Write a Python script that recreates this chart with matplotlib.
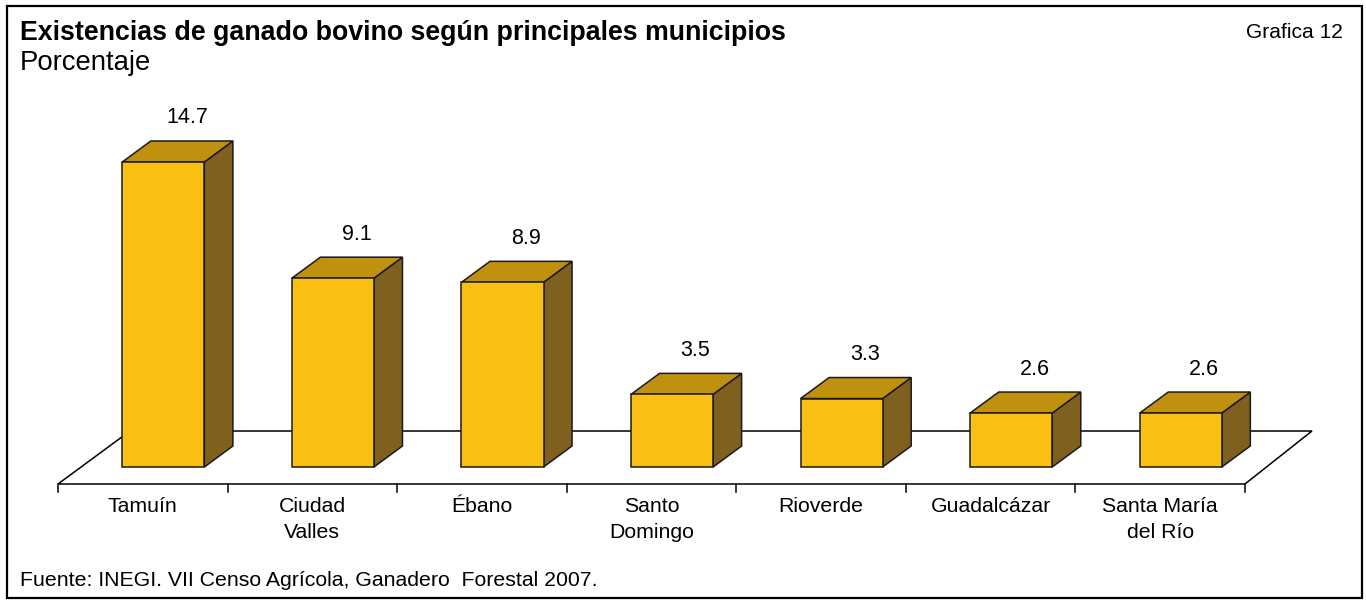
import matplotlib
matplotlib.use("Agg")
import matplotlib.pyplot as plt
from matplotlib.patches import Polygon, Rectangle

# ---- data ----
categories = ["Tamuín", "Ciudad\nValles", "Ébano", "Santo\nDomingo", "Rioverde", "Guadalcázar", "Santa María\ndel Río"]
values = [14.7, 9.1, 8.9, 3.5, 3.3, 2.6, 2.6]
title = "Existencias de ganado bovino según principales municipios"
subtitle = "Porcentaje"
chart_no = "Grafica 12"
source = "Fuente: INEGI. VII Censo Agrícola, Ganadero  Forestal 2007."

# ---- style / layout ----
W, H = 1366, 604
plt.rcParams['font.family'] = ['Liberation Sans', 'DejaVu Sans']
FRONT = "#F9C013"
TOP = "#C0900F"
SIDE = "#80601F"

X0_PX, Y0_PX = 58.0, 467.0       # pixel of data (0, 0)
UX, UY = 169.57, 20.75           # pixels per data unit
DX, DY = 72.0 / UX, 53.0 / UY    # depth offset (data units) for full floor depth
FLOOR_Y = -17.0 / UY
Z0, Z1 = 17.0 / 53.0, 38.0 / 53.0
BAR_OFF, BAR_W = 0.243, 0.484

fig = plt.figure(figsize=(W / 100, H / 100), dpi=100)
ax = fig.add_axes([0, 0, 1, 1])
ax.set_xlim(-X0_PX / UX, (W - X0_PX) / UX)
ax.set_ylim((Y0_PX - H) / UY, Y0_PX / UY)
ax.axis("off")


def proj(x, h, z):
    return (x + z * DX, FLOOR_Y + z * DY + h)


n = len(categories)
# floor
br = proj(n, 0, 1)
floor = [proj(0, 0, 0), proj(n, 0, 0), (br[0] - 5.0 / UX, br[1]), proj(0, 0, 1)]
ax.add_patch(Polygon(floor, closed=True, facecolor="white", edgecolor="black", lw=1.1, zorder=1))
# ticks
tick_len = 8.0 / UY
for i in range(n + 1):
    ax.plot([i, i], [FLOOR_Y, FLOOR_Y - tick_len], color="black", lw=1.1, zorder=1)

# bars
for i, v in enumerate(values):
    xl = i + BAR_OFF
    xr = xl + BAR_W
    side = [proj(xr, 0, Z0), proj(xr, 0, Z1), proj(xr, v, Z1), proj(xr, v, Z0)]
    top = [proj(xl, v, Z0), proj(xr, v, Z0), proj(xr, v, Z1), proj(xl, v, Z1)]
    front = [proj(xl, 0, Z0), proj(xr, 0, Z0), proj(xr, v, Z0), proj(xl, v, Z0)]
    for pts, c in ((side, SIDE), (top, TOP), (front, FRONT)):
        ax.add_patch(Polygon(pts, closed=True, facecolor=c, edgecolor="#1a1a1a", lw=1.1,
                             joinstyle="miter", zorder=2 + i))
    lx, ly = proj((xl + xr) / 2, v, Z1)
    ax.text(lx - 5.0 / UX, ly + 23.0 / UY, f"{v:.1f}", ha="center", va="center",
            fontsize=15.5, zorder=20)

# category labels
for i, c in enumerate(categories):
    ax.text(i + 0.5, FLOOR_Y - 13.5 / UY, c, ha="center", va="top", fontsize=15.3,
            linespacing=1.45)

# texts
def ft(xp, yp, s, **kw):
    fig.text(xp / W, 1 - yp / H, s, **kw)

ft(20, 33, title, fontsize=19.3, fontweight="bold", va="center", ha="left")
ft(20, 63, subtitle, fontsize=19.8, va="center", ha="left")
ft(1343, 33, chart_no, fontsize=15.1, va="center", ha="right")
ft(20, 580, source, fontsize=15.3, va="center", ha="left")

# border
fig.patches.append(Rectangle((7 / W, 6 / H), (1362 - 7) / W, (598 - 6) / H,
                             transform=fig.transFigure, fill=False, edgecolor="black", lw=1.6))

fig.savefig("out.png", dpi=100)
